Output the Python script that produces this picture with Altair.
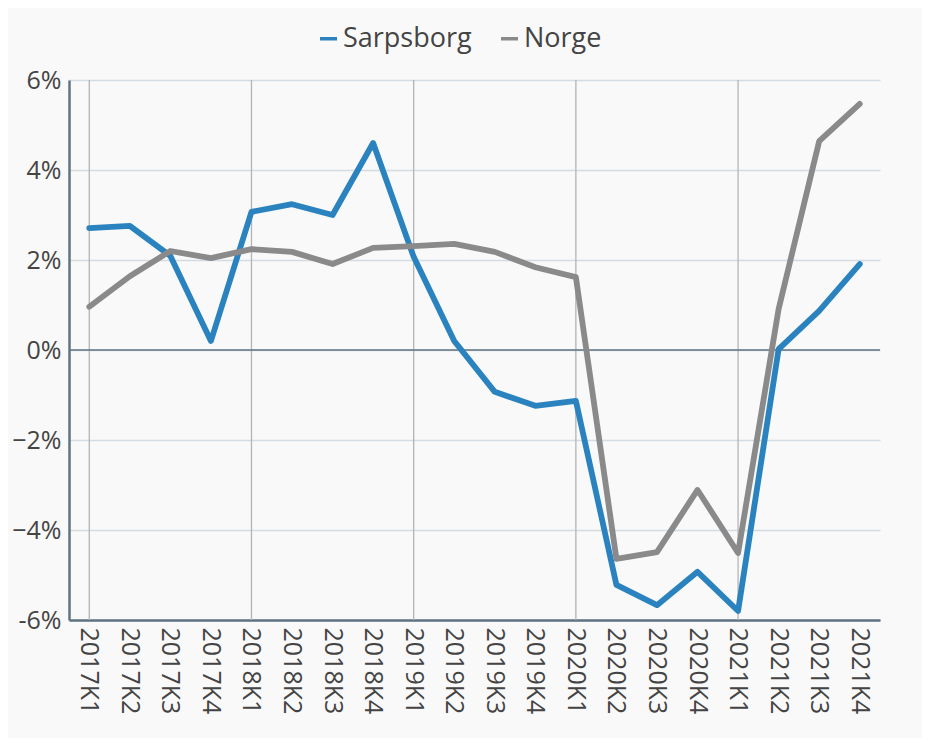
import altair as alt
import pandas as pd

quarters = ["2017K1", "2017K2", "2017K3", "2017K4",
            "2018K1", "2018K2", "2018K3", "2018K4",
            "2019K1", "2019K2", "2019K3", "2019K4",
            "2020K1", "2020K2", "2020K3", "2020K4",
            "2021K1", "2021K2", "2021K3", "2021K4"]
sarpsborg = [2.71, 2.76, 2.09, 0.20, 3.07, 3.24, 3.00, 4.60,
             2.07, 0.20, -0.93, -1.24, -1.13, -5.22, -5.67, -4.93,
             -5.80, 0.02, 0.87, 1.91]
norge = [0.96, 1.64, 2.20, 2.04, 2.24, 2.18, 1.91, 2.27,
         2.31, 2.36, 2.18, 1.84, 1.62, -4.64, -4.49, -3.11,
         -4.51, 0.91, 4.64, 5.47]
series = ["Sarpsborg", "Norge"]
colors = ["#2a83bf", "#8a8a8a"]
y_ticks = [-6, -4, -2, 0, 2, 4, 6]

rows = []
for name, vals in zip(series, [sarpsborg, norge]):
    for q, v in zip(quarters, vals):
        rows.append({"kvartal": q, "serie": name, "verdi": v})
df = pd.DataFrame(rows)
k1 = pd.DataFrame({"kvartal": [q for q in quarters if q.endswith("K1")]})

FONT = "Open Sans"
xscale = alt.Scale(type="band", domain=quarters, paddingInner=0, paddingOuter=0)
yscale = alt.Scale(domain=[-6, 6], nice=False)
xaxis = alt.Axis(labelAngle=90, labelFontSize=25, labelFont=FONT, labelColor="#444444",
                 labelPadding=7, ticks=False, domainColor="#5f7380", domainWidth=2.5,
                 grid=False, labelOverlap=False, bandPosition=0.5)

vgrid = alt.Chart(k1).mark_rule(color="#b4b4b4", strokeWidth=1.3).encode(
    x=alt.X("kvartal:N", scale=xscale, sort=quarters, title=None, axis=xaxis, bandPosition=0.5)
)

lines = alt.Chart(df).mark_line(strokeWidth=5.8, strokeJoin="round", strokeCap="round").encode(
    x=alt.X("kvartal:N", scale=xscale, sort=quarters, title=None, axis=xaxis, bandPosition=0.5),
    y=alt.Y("verdi:Q", scale=yscale, title=None,
            axis=alt.Axis(values=y_ticks, labelFontSize=25, labelFont=FONT, labelColor="#444444",
                          labelPadding=8, ticks=False, domainColor="#5f7380", domainWidth=2.5,
                          gridColor="#d3dbe3", gridWidth=1.3,
                          labelExpr="datum.value == 0 ? '0%' : (datum.value == -6 ? '-6%' : (datum.value < 0 ? '\u2212' + abs(datum.value) + '%' : datum.value + '%'))")),
    color=alt.Color("serie:N", scale=alt.Scale(domain=series, range=colors), sort=series,
                    legend=alt.Legend(title=None, orient="none", legendX=246, legendY=-55,
                                      direction="horizontal", symbolType="stroke",
                                      symbolStrokeWidth=3.5, symbolSize=289,
                                      labelFontSize=27, labelFont=FONT, labelColor="#444444",
                                      columnPadding=22, labelOffset=1)),
)

zero = alt.Chart(pd.DataFrame({"y": [0]})).mark_rule(color="#5f7380", strokeWidth=1.6).encode(
    y=alt.Y("y:Q", scale=yscale)
)

chart = alt.layer(vgrid, zero, lines).properties(
    width=811, height=540,
    background="#f9f9f9",
    padding={"left": 61, "top": 72, "right": 42, "bottom": 118},
    autosize=alt.AutoSizeParams(type="none"),
).configure_view(stroke=None)

chart.save("out.html", embed_options={"renderer": "svg", "actions": False})
